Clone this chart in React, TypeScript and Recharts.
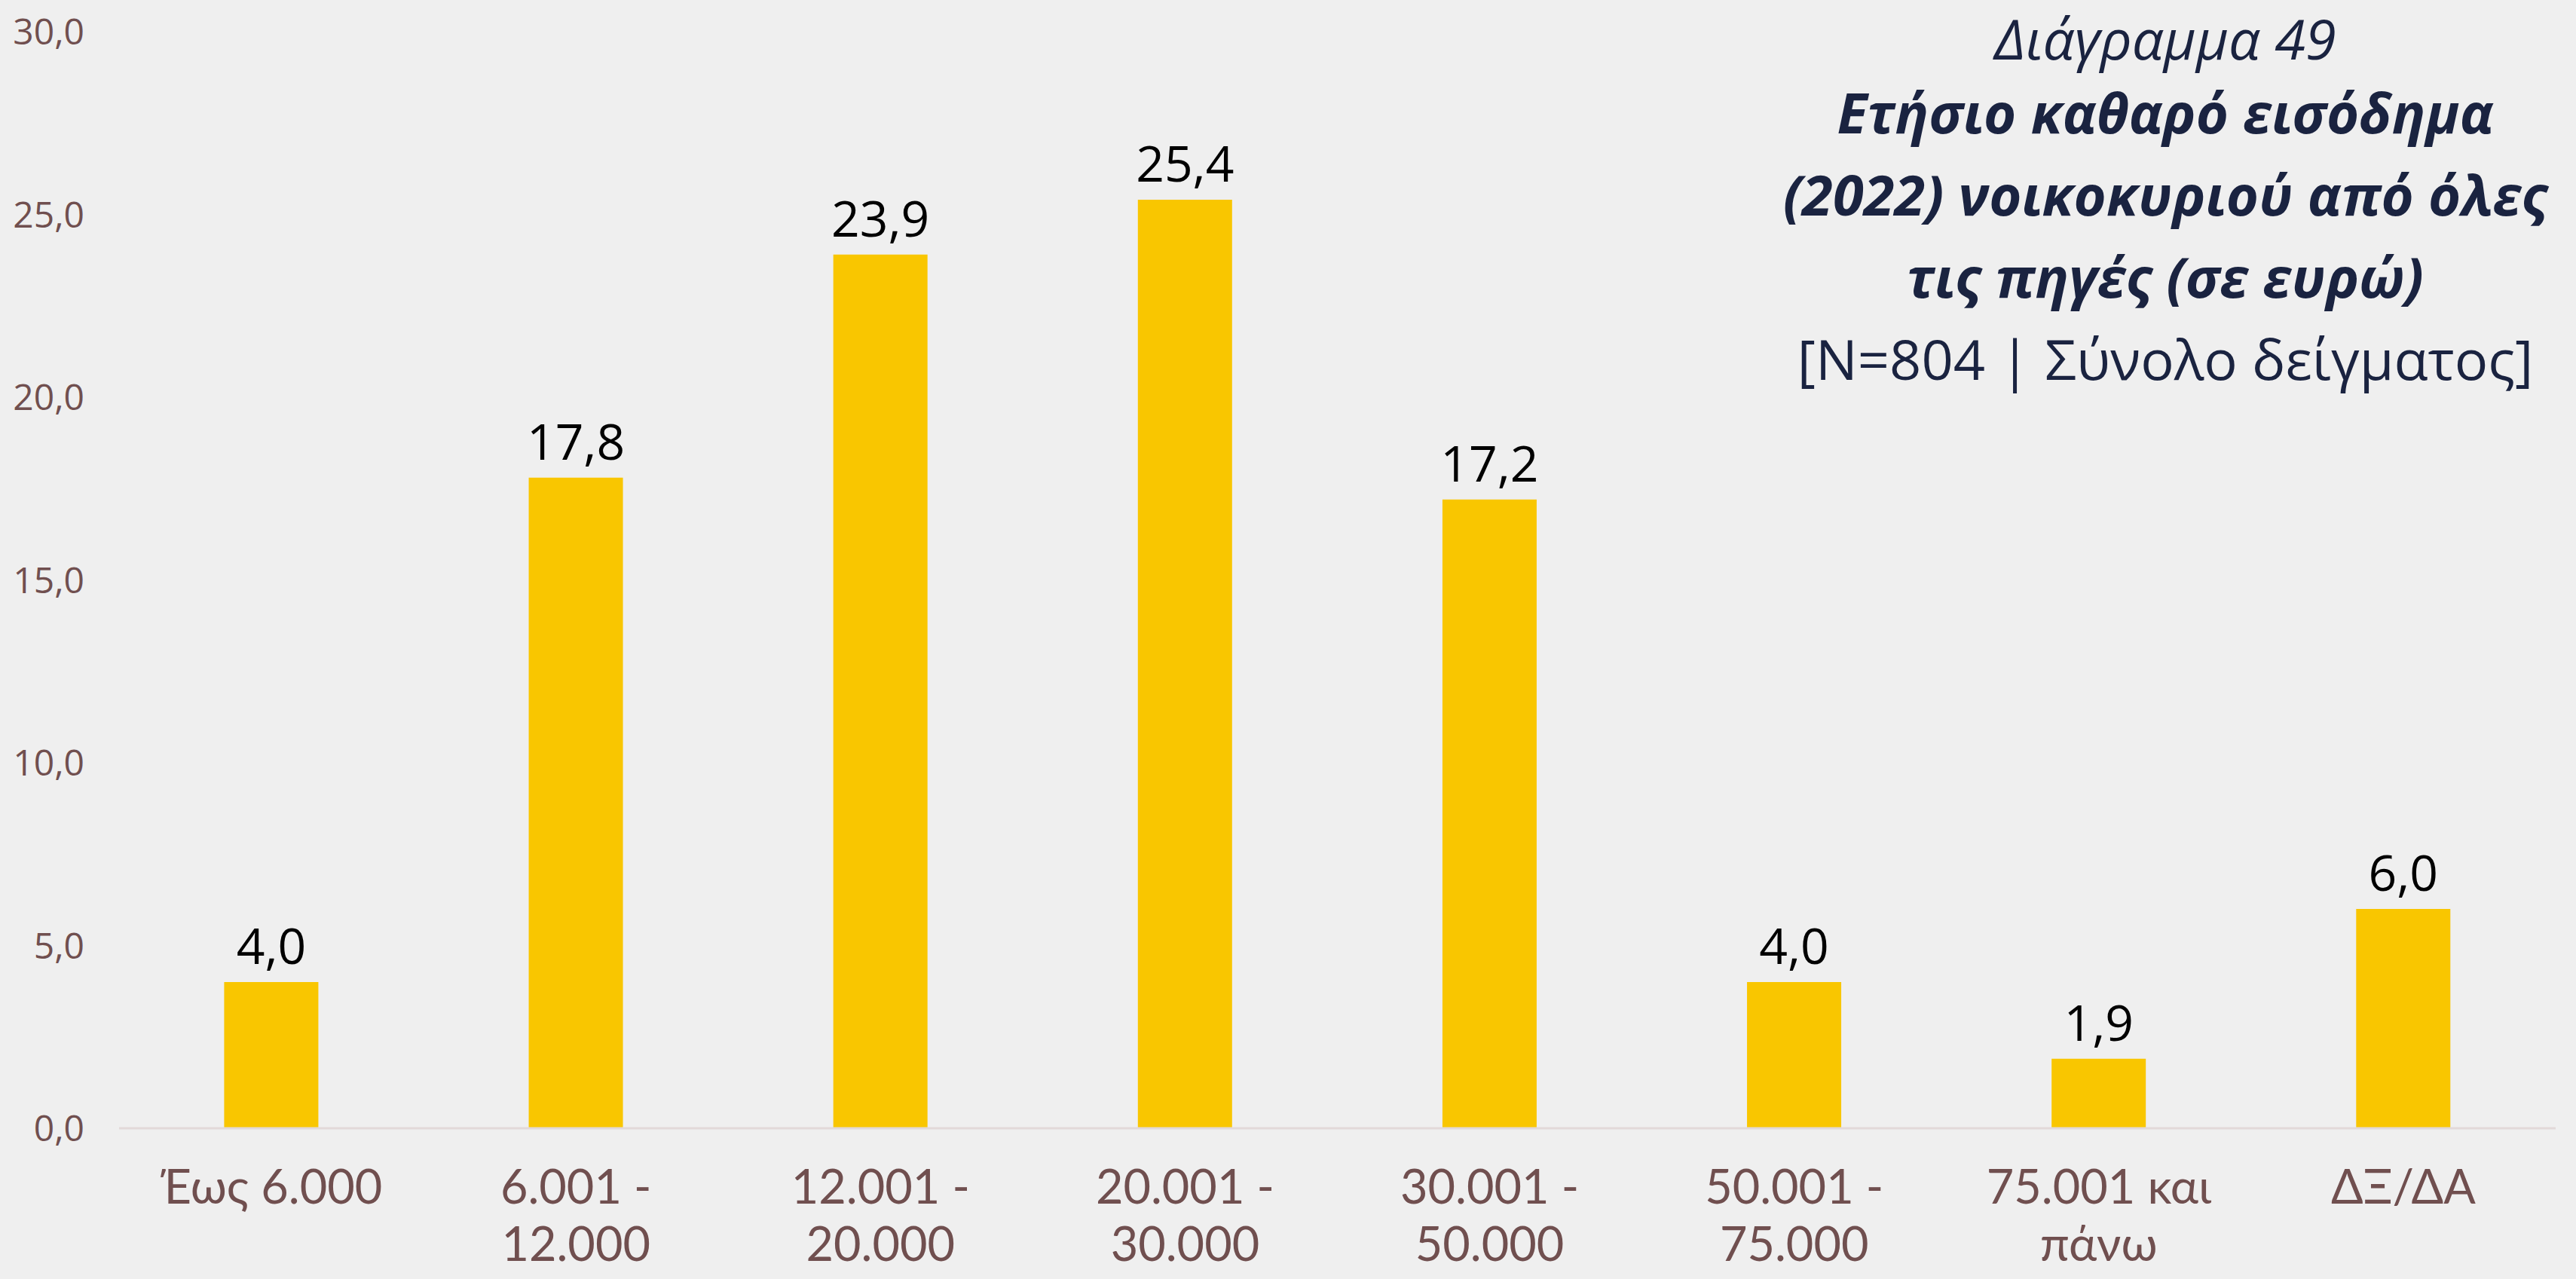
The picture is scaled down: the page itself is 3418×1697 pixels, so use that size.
import { BarChart, Bar, XAxis, YAxis, LabelList } from "recharts";

// Income bands (two-line labels split on "\n")
const categories = [
  "Έως 6.000",
  "6.001 -\n12.000",
  "12.001 -\n20.000",
  "20.001 -\n30.000",
  "30.001 -\n50.000",
  "50.001 -\n75.000",
  "75.001 και\nπάνω",
  "ΔΞ/ΔΑ",
];
const shares = [4.0, 17.8, 23.9, 25.4, 17.2, 4.0, 1.9, 6.0];
const yTicks = [0, 5, 10, 15, 20, 25, 30];

const titleLines = [
  { text: "Διάγραμμα 49", bold: false, italic: true },
  { text: "Ετήσιο καθαρό εισόδημα", bold: true, italic: true },
  { text: "(2022) νοικοκυριού από όλες", bold: true, italic: true },
  { text: "τις πηγές (σε ευρώ)", bold: true, italic: true },
  { text: "[N=804 | Σύνολο δείγματος]", bold: false, italic: false },
];

const data = categories.map((c, i) => ({ name: c, value: shares[i] }));

const fmt = (v: number) => v.toFixed(1).replace(".", ",");

const axisColor = "#704f4f";

const CategoryTick = ({ x, y, payload }: any) => {
  const lines = String(payload.value).split("\n");
  return (
    <text
      x={x}
      y={y}
      textAnchor="middle"
      fill={axisColor}
      fontSize={63}
      fontFamily="Lato, 'Noto Sans', sans-serif"
    >
      {lines.map((l, i) => (
        <tspan key={i} x={x} y={y + 100 + i * 76}>
          {l}
        </tspan>
      ))}
    </text>
  );
};

export default function App() {
  return (
    <div
      style={{
        position: "absolute",
        left: 0,
        top: 0,
        width: 3418,
        height: 1697,
        background: "#efefef",
        overflow: "hidden",
      }}
    >
      <BarChart
        width={3418}
        height={1697}
        data={data}
        margin={{ top: 42, right: 27, bottom: 0, left: 0 }}
        barCategoryGap="34.5%"
      >
        <XAxis
          dataKey="name"
          interval={0}
          height={200}
          tickLine={false}
          tickSize={0}
          tickMargin={0}
          axisLine={{ stroke: "#e2d9d9", strokeWidth: 3 }}
          tick={<CategoryTick />}
        />
        <YAxis
          width={158}
          domain={[0, 30]}
          ticks={yTicks}
          axisLine={false}
          tickLine={false}
          tickSize={0}
          tickMargin={46}
          tickFormatter={fmt}
          tick={{
            fill: axisColor,
            fontSize: 48,
            fontFamily: "'Open Sans', 'Noto Sans', sans-serif",
          }}
        />
        <Bar dataKey="value" fill="#f9c600" isAnimationActive={false}>
          <LabelList
            dataKey="value"
            position="top"
            offset={24}
            formatter={(v: any) => fmt(Number(v))}
            fill="#000000"
            fontSize={66}
            fontFamily="'Open Sans', 'Noto Sans', sans-serif"
          />
        </Bar>
      </BarChart>
      <div
        style={{
          position: "absolute",
          left: 2323,
          top: 0,
          width: 1100,
          textAlign: "center",
          color: "#1a2340",
          fontFamily: "'Open Sans', 'Noto Sans', sans-serif",
          fontSize: 74,
        }}
      >
        {titleLines.map((t, i) => (
          <div
            key={i}
            style={{
              fontWeight: t.bold ? 700 : 400,
              fontStyle: t.italic ? "italic" : "normal",
              whiteSpace: "nowrap",
              lineHeight: i === 0 ? "101px" : "109px",
              marginTop: i === 1 ? -7 : 0,
            }}
          >
            {t.text}
          </div>
        ))}
      </div>
    </div>
  );
}
